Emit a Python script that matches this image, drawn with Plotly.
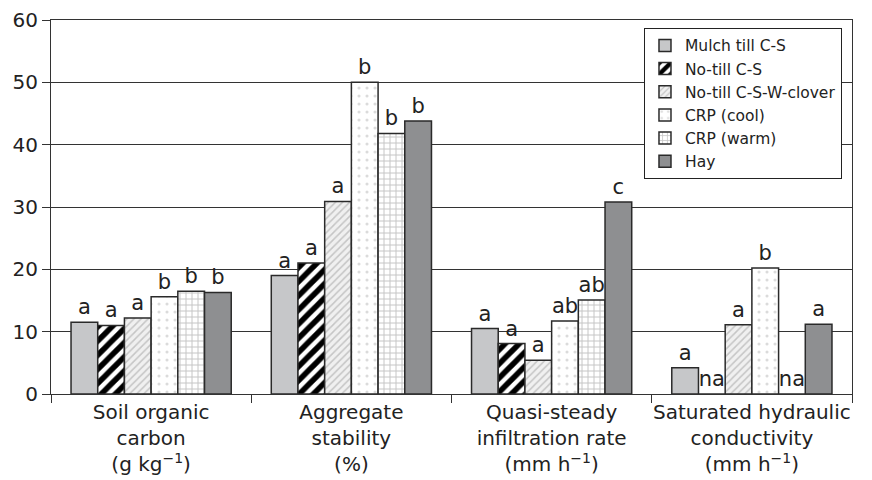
import plotly.graph_objects as go

categories = [
    "Soil organic<br>carbon<br>(g kg<sup>−1</sup>)",
    "Aggregate<br>stability<br>(%)",
    "Quasi-steady<br>infiltration rate<br>(mm h<sup>−1</sup>)",
    "Saturated hydraulic<br>conductivity<br>(mm h<sup>−1</sup>)",
]

series_names = ["Mulch till C-S", "No-till C-S", "No-till C-S-W-clover",
                "CRP (cool)", "CRP (warm)", "Hay"]

mulch_till_cs = [11.5, 19.0, 10.5, 4.2]
no_till_cs = [11.0, 21.0, 8.1, None]
no_till_csw = [12.2, 30.9, 5.4, 11.1]
crp_cool = [15.6, 50.0, 11.7, 20.2]
crp_warm = [16.5, 41.8, 15.1, None]
hay = [16.3, 43.8, 30.8, 11.2]

letters_mulch = ["a", "a", "a", "a"]
letters_nt = ["a", "a", "a", "na"]
letters_ntw = ["a", "a", "a", "a"]
letters_cool = ["b", "b", "ab", "b"]
letters_warm = ["b", "b", "ab", "na"]
letters_hay = ["b", "b", "c", "a"]

y_ticks = [0, 10, 20, 30, 40, 50, 60]

series_values = [mulch_till_cs, no_till_cs, no_till_csw, crp_cool, crp_warm, hay]
series_letters = [letters_mulch, letters_nt, letters_ntw, letters_cool, letters_warm, letters_hay]

FONT = "DejaVu Sans, Verdana, sans-serif"

styles = [
    dict(color="#c6c7c9", pattern=dict(shape="")),
    dict(color="white", pattern=dict(shape="/", fgcolor="#000000", bgcolor="white",
                                     size=10, solidity=0.55, fgopacity=1, fillmode="overlay")),
    dict(color="white", pattern=dict(shape="/", fgcolor="#9a9a9a", bgcolor="#f0f0f0",
                                     size=5, solidity=0.3, fillmode="overlay")),
    dict(color="white", pattern=dict(shape=".", fgcolor="#b8b8b8", bgcolor="white",
                                     size=8, solidity=0.12, fillmode="overlay")),
    dict(color="white", pattern=dict(shape="+", fgcolor="#8a8a8a", bgcolor="white",
                                     size=6, solidity=0.3, fillmode="overlay")),
    dict(color="#8e8f91", pattern=dict(shape="")),
]

fig = go.Figure()
for name, vals, lets, st in zip(series_names, series_values, series_letters, styles):
    yv = [v if v is not None else 0 for v in vals]
    fig.add_trace(go.Bar(
        name=name, x=categories, y=yv,
        text=lets, textposition="outside", cliponaxis=False,
        constraintext="none",
        textfont=dict(size=21, color="#222", family=FONT),
        marker=dict(color=st["color"], pattern=st["pattern"],
                    line=dict(color="#2a2a2a", width=1.5)),
    ))

# the page body adds an 8px margin, so the figure is 8px smaller than the window
fig.update_layout(
    width=864, height=472,
    barmode="group", bargap=0.2, bargroupgap=0,
    plot_bgcolor="white", paper_bgcolor="white",
    margin=dict(l=43, r=20, t=12, b=86, autoexpand=False),
    font=dict(family=FONT, size=20, color="#222"),
    legend=dict(x=0.9875, y=0.979, xanchor="right", yanchor="top",
                bgcolor="white", bordercolor="#222", borderwidth=1,
                font=dict(size=15.5, color="#222", family=FONT), tracegroupgap=0,
                itemwidth=30),
    showlegend=True,
)
fig.update_xaxes(
    showline=True, linecolor="#333", linewidth=1, mirror=True,
    ticks="outside", tickson="boundaries", ticklen=8, tickcolor="#333",
    tickfont=dict(size=20, color="#222", family=FONT), tickangle=0,
    showgrid=False,
)
fig.update_yaxes(
    range=[0, 60], tickvals=y_ticks,
    showline=True, linecolor="#333", linewidth=1, mirror=True,
    ticks="outside", ticklen=8, tickcolor="#333",
    showgrid=True, gridcolor="#333", gridwidth=1,
    tickfont=dict(size=20, color="#222", family=FONT),
    zeroline=False,
)

fig.write_html("out.html")
